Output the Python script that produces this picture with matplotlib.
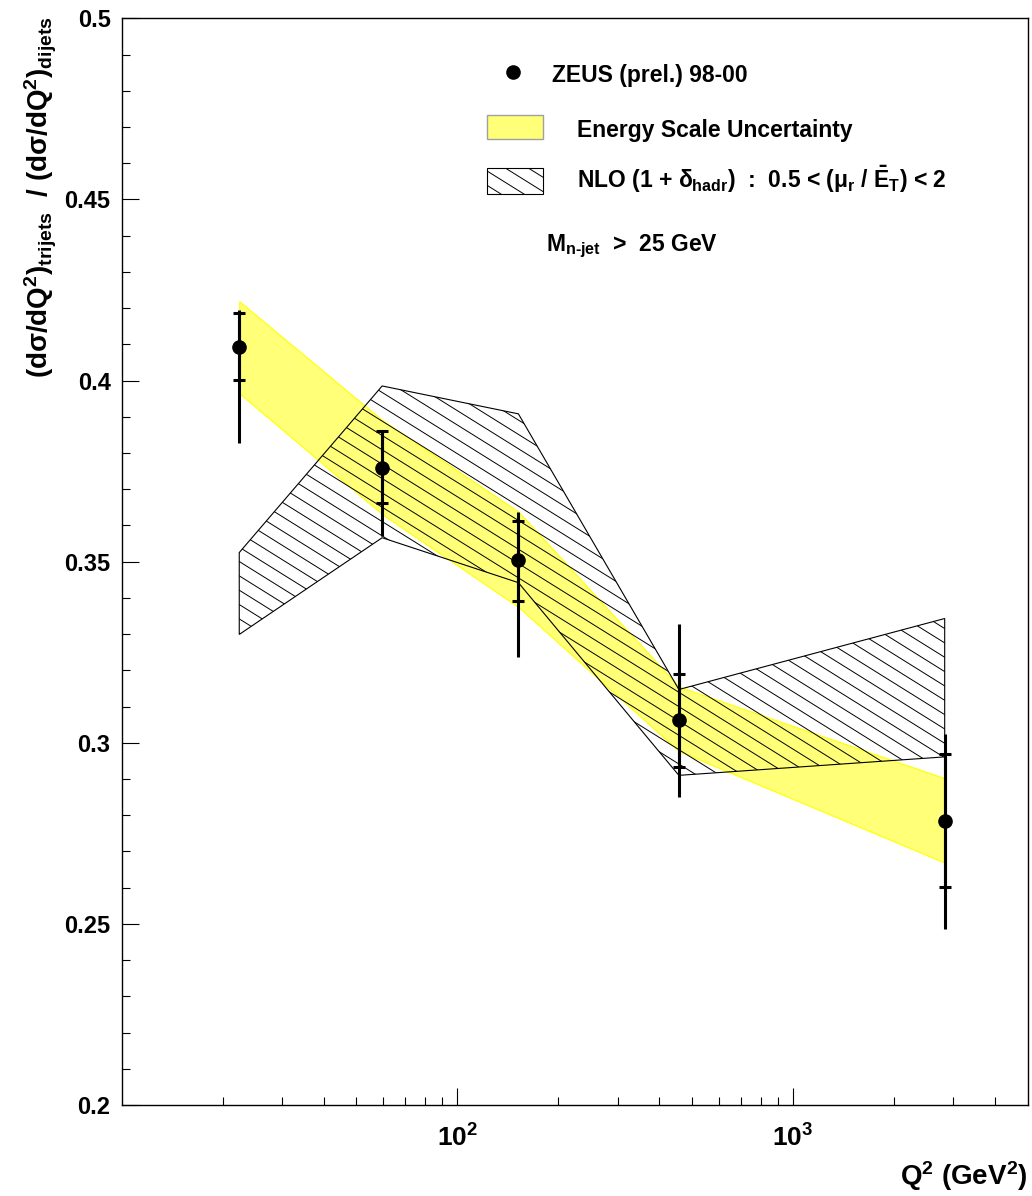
import numpy as np
import matplotlib
matplotlib.use('Agg')
import matplotlib.pyplot as plt
from matplotlib.patches import Rectangle
from matplotlib.ticker import FixedLocator, NullFormatter, FuncFormatter

# Q^2 bin centres (GeV^2)
q2 = [22.4, 59.7, 152.0, 457.0, 2830.0]

# ZEUS (prel.) 98-00 trijet / dijet ratio
ratio = [0.4093, 0.3759, 0.3504, 0.3063, 0.2785]
stat_hi = [0.4186, 0.3861, 0.3613, 0.3190, 0.2968]
stat_lo = [0.4001, 0.3661, 0.3392, 0.2934, 0.2603]
tot_hi = [0.4195, 0.3864, 0.3636, 0.3328, 0.3024]
tot_lo = [0.3827, 0.3572, 0.3237, 0.2849, 0.2486]

# energy scale uncertainty band
escale_hi = [0.4219, 0.3891, 0.3638, 0.3155, 0.2902]
escale_lo = [0.3965, 0.3631, 0.3375, 0.2977, 0.2669]

# NLO (1 + delta_hadr), 0.5 < mu_r / E_T < 2
nlo_hi = [0.3525, 0.3985, 0.3908, 0.3147, 0.3343]
nlo_lo = [0.3299, 0.3566, 0.3442, 0.2910, 0.2961]

y_ticks = [0.2, 0.25, 0.3, 0.35, 0.4, 0.45, 0.5]
x_ticks = [100, 1000]
x_ticklabels = [r'$10^{2}$', r'$10^{3}$']

plt.rcParams['font.family'] = ['Liberation Sans', 'DejaVu Sans']
plt.rcParams['font.weight'] = 'bold'
plt.rcParams['mathtext.fontset'] = 'custom'
plt.rcParams['mathtext.rm'] = 'Liberation Sans:bold'
plt.rcParams['mathtext.it'] = 'Liberation Sans:bold'
plt.rcParams['mathtext.bf'] = 'Liberation Sans:bold'
plt.rcParams['mathtext.sf'] = 'Liberation Sans:bold'

BAND_YELLOW = '#ffff78'


def add_hatch(ax, clip, slope=-0.52, step=0.0132):
    # manual "\\" hatching, shallower than matplotlib's 45 degrees
    xs = np.array([0.0, 1.0])
    for c in np.arange(0.0, 1.6, step):
        ln, = ax.plot(xs, c + slope * xs, transform=ax.transAxes,
                      color='k', lw=0.7, zorder=3)
        ln.set_clip_path(clip)


fig = plt.figure(figsize=(10.32, 11.96), dpi=100)
ax = fig.add_axes([0.1179, 0.0761, 0.8779, 0.9086])

# energy scale band
ax.fill_between(q2, escale_lo, escale_hi, facecolor=BAND_YELLOW,
                edgecolor='#ffff00', lw=0.8, zorder=1)

# NLO band
xs = np.concatenate([q2, q2[::-1]])
ys = np.concatenate([nlo_hi, nlo_lo[::-1]])
poly = ax.fill(xs, ys, facecolor='none', edgecolor='k', lw=0.8, zorder=4)[0]
add_hatch(ax, poly)

# data points: total error as bare line, statistical with caps
y = np.array(ratio)
ax.errorbar(q2, y, yerr=[y - np.array(tot_lo), np.array(tot_hi) - y],
            fmt='none', ecolor='k', elinewidth=2.2, capsize=0, zorder=5)
ax.errorbar(q2, y, yerr=[y - np.array(stat_lo), np.array(stat_hi) - y],
            fmt='o', color='k', ms=9.5, elinewidth=2.2, capsize=4,
            capthick=2.2, zorder=6)

ax.set_xscale('log')
ax.set_xlim(10, 5000)
ax.set_ylim(0.2, 0.5)

ax.xaxis.set_major_locator(FixedLocator(x_ticks))
ax.set_xticklabels(x_ticklabels)
minors = [m * d for d in (10, 100, 1000) for m in range(2, 10) if m * d < 5000]
ax.xaxis.set_minor_locator(FixedLocator(minors))
ax.xaxis.set_minor_formatter(NullFormatter())

ax.yaxis.set_major_locator(FixedLocator(y_ticks))
ax.yaxis.set_major_formatter(FuncFormatter(lambda v, p: f'{v:g}'))
ax.yaxis.set_minor_locator(FixedLocator(np.arange(0.2, 0.5001, 0.01)))

ax.tick_params(which='both', direction='in', top=False, right=False, width=0.8)
ax.tick_params(which='major', length=12)
ax.tick_params(which='minor', length=6)
ax.tick_params(axis='y', labelsize=17, pad=8)
ax.tick_params(axis='x', labelsize=19, pad=14)
for sp in ax.spines.values():
    sp.set_linewidth(1.0)

# legend, drawn by hand
ax.plot(0.4322, 0.9503, 'o', ms=9.5, color='k', transform=ax.transAxes,
        clip_on=False)
ax.text(0.4749, 0.9416, 'ZEUS (prel.) 98-00', transform=ax.transAxes,
        fontsize=16.5, va='baseline')

ax.add_patch(Rectangle((0.4029, 0.8889), 0.0624, 0.0221, transform=ax.transAxes,
                       facecolor=BAND_YELLOW, edgecolor='#a0a0a0', lw=1.0))
ax.text(0.5022, 0.8911, 'Energy Scale Uncertainty', transform=ax.transAxes,
        fontsize=16.5, va='baseline')

box = Rectangle((0.4029, 0.8383), 0.0624, 0.0240, transform=ax.transAxes,
                facecolor='none', edgecolor='k', lw=0.8)
ax.add_patch(box)
add_hatch(ax, box)
ax.text(0.5022, 0.8435,
        r'NLO (1 + $\delta_{\rm hadr}$)  :  0.5 < ($\mu_{\rm r}$ / $\bar{\rm E}_{\rm T}$) < 2',
        transform=ax.transAxes, fontsize=16.5, va='baseline')
ax.text(0.4683, 0.7856, r'M$_{\rm n\text{-}jet}$  >  25 GeV',
        transform=ax.transAxes, fontsize=16.5, va='baseline')

fig.text(0.040, 0.987,
         r'(d$\sigma$/dQ$^{2}$)$_{\rm trijets}$  / (d$\sigma$/dQ$^{2}$)$_{\rm dijets}$',
         rotation=90, ha='center', va='top', fontsize=20)
fig.text(0.9958, 0.0025, r'Q$^{2}$ (GeV$^{2}$)', ha='right', va='bottom',
         fontsize=20)

fig.savefig('out.png', dpi=100)
